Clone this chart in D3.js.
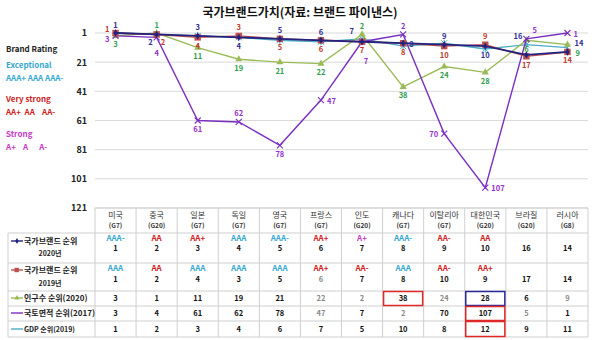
<!DOCTYPE html>
<html><head><meta charset="utf-8">
<script src="https://cdn.jsdelivr.net/npm/d3@7"></script>
<style>
html,body{margin:0;padding:0;background:#fff;}
svg{display:block;font-family:"Noto Sans CJK KR","Noto Sans",sans-serif;}
</style></head>
<body><svg id="c" width="600" height="340"></svg>
<script>
const countries = ["미국","중국","일본","독일","영국","프랑스","인도","캐나다","이탈리아","대한민국","브라질","러시아"];
const groups = ["(G7)","(G20)","(G7)","(G7)","(G7)","(G7)","(G20)","(G7)","(G7)","(G20)","(G20)","(G8)"];
const brand2020 = [1,2,3,4,5,6,7,8,9,10,16,14];
const rating2020 = ["AAA-","AA","AA+","AAA","AAA-","AA+","A+","AAA-","AA-","AA","",""];
const brand2019 = [1,2,4,3,5,6,7,8,10,9,17,14];
const rating2019 = ["AAA","AA","AAA","AAA","AAA","AA+","AA-","AAA","AA-","AA+","",""];
const population2020 = [3,1,11,19,21,22,2,38,24,28,6,9];
const area2017 = [3,4,61,62,78,47,7,2,70,107,5,1];
const gdp2019 = [1,2,3,4,6,7,5,10,8,12,9,11];
const yTicks = [1,21,41,61,81,101,121];
const seriesNames = ["국가브랜드 순위","국가브랜드 순위","인구수 순위(2020)","국토면적 순위(2017)","GDP 순위(2019)"];

// label placement codes per point
const pos2020 = ["a","bl","a","b","a","a","al","r","a","b","alh","ru"];
const pos2019 = ["lu","br","b","a","b","b","b","b","b","a","b","b"];
const posPop  = ["b","a","b","b","b","b","a","b","b","b","b","brr"];
const posArea = ["ld","bb","b","a","b","r","bbr","a","l","r","ar","r"];
// offsets for each placement code: [dx, dy, anchor]
const placement = {
  a:[0,-5.5,"middle"], b:[0,11.5,"middle"], bb:[0,19,"middle"], bbr:[4,22,"middle"],
  l:[-6,3.5,"end"], r:[6,3.5,"start"],
  lu:[-6,-1,"end"], ld:[-6,6.5,"end"], ru:[7,-6,"start"],
  bl:[-4,11,"end"], br:[4,11,"start"], brr:[8,11,"start"],
  al:[-8,-8,"end"], alh:[-4,-16,"end"], ar:[6,-6,"start"]
};

const svg = d3.select("#c");
const x0 = 95, x1 = 588;
const x = d3.scalePoint().domain(countries).range([x0, x1]).padding(0.5);
const colW = (x1 - x0) / countries.length;
const y = d3.scaleLinear().domain([1,121]).range([33,208]);

// title
svg.append("text").attr("x",300).attr("y",16.5).attr("text-anchor","middle")
  .attr("font-size",12).attr("font-weight","bold").attr("fill","#111")
  .text("국가브랜드가치(자료: 브랜드 파이낸스)");

// grid
svg.append("g").selectAll("line").data(yTicks).join("line")
  .attr("x1",x0).attr("x2",x1).attr("y1",d=>y(d)).attr("y2",d=>y(d))
  .attr("stroke","#d9d9d9").attr("stroke-width",1);
const yAxis = d3.axisLeft(y).tickValues(yTicks).tickSize(0).tickPadding(8);
const ya = svg.append("g").attr("transform",`translate(${x0},0)`).call(yAxis);
ya.select(".domain").remove();
ya.selectAll("text").attr("font-size",9).attr("font-weight","bold").attr("fill","#222")
  .attr("font-family","'Noto Sans CJK KR',sans-serif");

// left legend (rating classes)
const leg = [
  {t:"Brand Rating",y:52,c:"#222"},
  {t:"Exceptional",y:68,c:"#35A8D0"},
  {t:"AAA+ AAA AAA-",y:81,c:"#35A8D0"},
  {t:"Very strong",y:102,c:"#CC2222"},
  {t:"AA+  AA    AA-",y:115,c:"#CC2222"},
  {t:"Strong",y:137,c:"#C838C8"},
  {t:"A+    A      A-",y:150,c:"#C838C8"}
];
svg.append("g").selectAll("text").data(leg).join("text")
  .attr("x",6).attr("y",d=>d.y).attr("font-size",8).attr("font-weight","bold")
  .attr("fill",d=>d.c).attr("xml:space","preserve").style("white-space","pre").text(d=>d.t);

// series
const series = [
  {vals:gdp2019, line:"#4BACC6", lab:null, mk:"star", pos:null},
  {vals:population2020, line:"#9BBB59", lab:"#2FA04E", mk:"tri", pos:posPop},
  {vals:area2017, line:"#7B2FC0", lab:"#9530D0", mk:"x", pos:posArea},
  {vals:brand2019, line:"#C0504D", lab:"#C0392B", mk:"sq", pos:pos2019},
  {vals:brand2020, line:"#23237F", lab:"#2E2E96", mk:"dia", pos:pos2020}
];
const lineGen = d3.line().x((d,i)=>x(countries[i])).y(d=>y(d));
function marker(g, type, color, cx, cy){
  if(type==="sq") g.append("rect").attr("x",cx-3.2).attr("y",cy-3.2).attr("width",6.4).attr("height",6.4).attr("fill",color);
  else if(type==="tri") g.append("path").attr("d",d3.symbol(d3.symbolTriangle,22)()).attr("transform",`translate(${cx},${cy})`).attr("fill",color);
  else if(type==="dia") g.append("path").attr("d",d3.symbol(d3.symbolDiamond,16)()).attr("transform",`translate(${cx},${cy})`).attr("fill",color);
  else if(type==="x") g.append("path").attr("d",`M${cx-3},${cy-3}L${cx+3},${cy+3}M${cx-3},${cy+3}L${cx+3},${cy-3}`).attr("stroke",color).attr("stroke-width",1.1).attr("fill","none");
  else if(type==="star") g.append("path").attr("d",`M${cx-3},${cy-3}L${cx+3},${cy+3}M${cx-3},${cy+3}L${cx+3},${cy-3}M${cx},${cy-3.5}L${cx},${cy+3.5}`).attr("stroke",color).attr("stroke-width",1).attr("fill","none");
}
series.forEach(s=>{
  const g = svg.append("g");
  g.append("path").datum(s.vals).attr("d",lineGen).attr("fill","none")
    .attr("stroke",s.line).attr("stroke-width",s.mk==="dia"?1.8:1.4);
  s.vals.forEach((v,i)=>marker(g,s.mk,s.line,x(countries[i]),y(v)));
});
series.forEach(s=>{
  if(!s.lab) return;
  const g = svg.append("g");
  s.vals.forEach((v,i)=>{
    const [dx,dy,anc] = placement[s.pos[i]];
    g.append("text").attr("x",x(countries[i])+dx).attr("y",y(v)+dy)
      .attr("text-anchor",anc).attr("font-size",7.5).attr("font-weight","bold")
      .attr("fill",s.lab).text(v);
  });
});

// ---- data table ----
const T = svg.append("g");
const rowY = [208,233,263,291,306,321,337];
const tblL = 8;
const gridC = "#cfcfcf";
T.append("line").attr("x1",x0).attr("x2",x1).attr("y1",rowY[0]).attr("y2",rowY[0]).attr("stroke",gridC);
rowY.slice(1).forEach(yy=>T.append("line").attr("x1",tblL).attr("x2",x1).attr("y1",yy).attr("y2",yy).attr("stroke",gridC));
d3.range(countries.length+1).forEach(k=>{
  const xx = x0 + k*colW;
  T.append("line").attr("x1",xx).attr("x2",xx).attr("y1",rowY[0]).attr("y2",rowY[6]).attr("stroke",gridC);
});
T.append("line").attr("x1",tblL).attr("x2",tblL).attr("y1",rowY[1]).attr("y2",rowY[6]).attr("stroke",gridC);

countries.forEach((c,i)=>{
  const cx = x(c);
  T.append("text").attr("x",cx).attr("y",218).attr("text-anchor","middle").attr("font-size",8).attr("fill","#333").text(c);
  T.append("text").attr("x",cx).attr("y",228).attr("text-anchor","middle").attr("font-size",6.5).attr("font-weight","bold").attr("fill","#333").text(groups[i]);
});
function ratingColor(r){ if(r.startsWith("AAA")) return "#35A8D0"; if(r.startsWith("AA")) return "#D42020"; return "#C838C8"; }
const muted = new Set(["b19-5","pop-5","pop-6","pop-8","pop-11","area-5","area-7","area-10"]);
function cellNum(key, arr, yy){
  arr.forEach((v,i)=>{
    T.append("text").attr("x",x(countries[i])).attr("y",yy).attr("text-anchor","middle")
      .attr("font-size",7.5).attr("font-weight","bold")
      .attr("fill",muted.has(key+"-"+i)?"#8a8a8a":"#111").text(v);
  });
}
function cellRating(arr, yy){
  arr.forEach((r,i)=>{ if(!r) return;
    T.append("text").attr("x",x(countries[i])).attr("y",yy).attr("text-anchor","middle")
      .attr("font-size",8).attr("font-weight","bold").attr("fill",ratingColor(r)).text(r);
  });
}
cellRating(rating2020, 241); cellNum("b20", brand2020, 251);
cellRating(rating2019, 271); cellNum("b19", brand2019, 282);
cellNum("pop", population2020, 301);
cellNum("area", area2017, 316);
cellNum("gdp", gdp2019, 332);

const rowLabels = [
  {t:seriesNames[0], t2:"2020년", y:244, y2:256, c:"#23237F", mk:"dia"},
  {t:seriesNames[1], t2:"2019년", y:273, y2:286, c:"#C0504D", mk:"sq"},
  {t:seriesNames[2], y:301, c:"#9BBB59", mk:"tri"},
  {t:seriesNames[3], y:316, c:"#7B2FC0", mk:"x"},
  {t:seriesNames[4], y:332, c:"#4BACC6", mk:"star"}
];
rowLabels.forEach(r=>{
  const ly = r.y - 3;
  T.append("line").attr("x1",11).attr("x2",23).attr("y1",ly).attr("y2",ly).attr("stroke",r.c).attr("stroke-width",1.4);
  const mg = T.append("g");
  if(r.mk==="sq") mg.append("rect").attr("x",14.5).attr("y",ly-2.2).attr("width",4.4).attr("height",4.4).attr("fill",r.c);
  else if(r.mk==="dia") mg.append("path").attr("d",d3.symbol(d3.symbolDiamond,10)()).attr("transform",`translate(17,${ly})`).attr("fill",r.c);
  else if(r.mk==="tri") mg.append("path").attr("d",d3.symbol(d3.symbolTriangle,12)()).attr("transform",`translate(17,${ly})`).attr("fill",r.c);
  T.append("text").attr("x",24).attr("y",r.y).attr("font-size",r.mk==="star"?7:8).attr("font-weight","bold").attr("fill","#222").text(r.t);
  if(r.t2) T.append("text").attr("x",50).attr("y",r.y2).attr("text-anchor","middle").attr("font-size",7).attr("font-weight","bold").attr("fill","#222").text(r.t2);
});

const boxes = [
  {row:3, col:7, c:"#E02828"},
  {row:3, col:9, c:"#2A2A9A"},
  {row:4, col:9, c:"#E02828"},
  {row:5, col:9, c:"#E02828"}
];
boxes.forEach(b=>{
  T.append("rect").attr("x",x0+b.col*colW+1).attr("y",rowY[b.row]+0.5)
    .attr("width",colW-2).attr("height",rowY[b.row+1]-rowY[b.row]-1)
    .attr("fill","none").attr("stroke",b.c).attr("stroke-width",1.5);
});
</script></body></html>
